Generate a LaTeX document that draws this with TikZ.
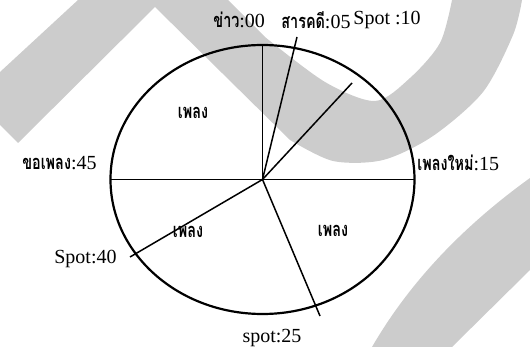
\documentclass[tikz,border=0pt]{standalone}
\usepackage{fontspec}
\setmainfont{Liberation Serif}
\newfontfamily\thai[Script=Thai, FakeStretch=0.72]{Loma}
\usetikzlibrary{shapes.geometric, backgrounds}
\tikzset{
  dial/.style={draw, ellipse, line width=1.1pt, minimum width=152pt, minimum height=134.5pt, inner sep=0pt, outer sep=0pt},
  spoke/.style={line width=0.75pt},
  tag/.style={inner sep=0pt, font=\fontsize{10}{12}\selectfont},
  song/.style={inner sep=0pt, font=\fontsize{10}{12}\selectfont\thai\bfseries},
  band/.style={fill=black!20, draw=none},
}

\begin{document}
\begin{tikzpicture}[x=0.5pt, y=-0.5pt]
    \useasboundingbox (0,0) rectangle (530,347);
    % gray bands behind the dial
    \fill[band] (0,72) -- (78,0) -- (228,0) -- (265,37)
      -- plot[smooth] coordinates {(265,37) (325,82) (375,101) (410,78) (440,43) (452,0)}
      -- (522,0)
      -- plot[smooth] coordinates {(522,0) (513,35) (483,92) (433,136) (383,160) (333,161) (290,140)}
      -- (155,7) -- (18,143) -- (0,125) -- cycle;
    \fill[band] (372,347) .. controls (405,290) and (455,232) .. (530,178)
      -- (530,270) -- (452,347) -- cycle;
    % dial
    \coordinate (c) at (262.5,179.5);
    \node[dial] (d) at (c) {};
    \coordinate (e05) at (297,37);
    \coordinate (e10) at (352,83);
    \coordinate (e25) at (320,316);
    \coordinate (e40) at (130,257);
    \draw[spoke] (c) -- (d.north);
    \draw[spoke] (d.west) -- (d.east);
    \draw[spoke] (c) -- (e05);
    \draw[spoke] (c) -- (e10);
    \draw[spoke] (c) -- (e25);
    \draw[spoke] (c) -- (e40);
    % labels
    \node[tag, anchor=west] (t00) at (213,20) {{\thai\bfseries ข่าว}:00};
    \node[tag, anchor=west] (t05) at (281,20) {{\thai\bfseries สารคดี}:05};
    \node[tag, anchor=west] (t10) at (353,20) {Spot :10};
    \node[tag, anchor=east] (t45) at (97,163) {{\thai\bfseries ขอเพลง}:45};
    \node[tag, anchor=west] (t15) at (417,163) {{\thai\bfseries เพลงใหม่}:15};
    \node[tag, anchor=east] (t40) at (117,259) {Spot:40};
    \node[tag] (t25) at (272,338) {spot:25};
    \node[song] (s1) at (193,113) {เพลง};
    \node[song] (s2) at (188,232) {เพลง};
    \node[song] (s3) at (333,231) {เพลง};
  \end{tikzpicture}
\end{document}
